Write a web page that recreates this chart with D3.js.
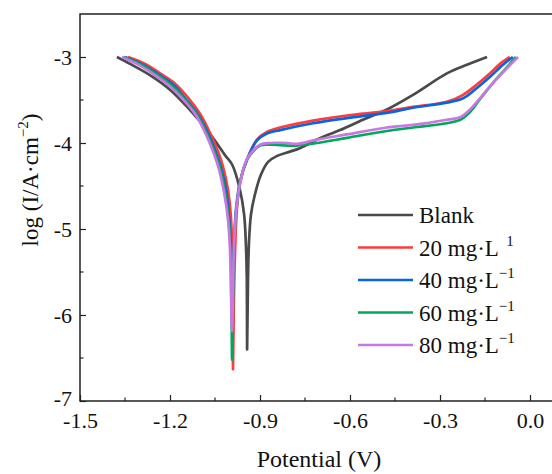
<!DOCTYPE html>
<html>
<head>
<meta charset="utf-8">
<script src="https://cdn.jsdelivr.net/npm/d3@7"></script>
<style>
  body { margin: 0; background: #fff; }
  svg text { font-family: "Liberation Serif", "Times New Roman", serif; fill: #111; }
</style>
</head>
<body>
<svg id="chart" width="552" height="474"></svg>
<script>
// ---- data: [potential (V), log(I)] ----
const blank = [
  [-1.377,-3.00],[-1.333,-3.08],[-1.267,-3.21],[-1.200,-3.38],[-1.143,-3.58],[-1.100,-3.75],
  [-1.057,-3.94],[-1.017,-4.14],[-0.993,-4.25],[-0.967,-4.54],[-0.953,-4.83],[-0.947,-5.18],
  [-0.944,-5.59],[-0.943,-6.40],[-0.940,-5.59],[-0.937,-5.18],[-0.930,-4.83],[-0.917,-4.60],
  [-0.897,-4.37],[-0.873,-4.22],[-0.843,-4.15],[-0.800,-4.10],[-0.767,-4.06],[-0.710,-3.96],
  [-0.633,-3.85],[-0.557,-3.73],[-0.477,-3.61],[-0.390,-3.44],[-0.277,-3.19],[-0.210,-3.09],
  [-0.143,-3.00]
];
const mg20 = [
  [-1.340,-3.00],[-1.283,-3.08],[-1.233,-3.19],[-1.183,-3.31],[-1.143,-3.46],[-1.100,-3.66],
  [-1.067,-3.88],[-1.040,-4.10],[-1.023,-4.28],[-1.007,-4.54],[-0.997,-4.86],[-0.993,-5.24],
  [-0.991,-5.82],[-0.990,-6.63],[-0.987,-5.82],[-0.983,-5.24],[-0.977,-4.77],[-0.967,-4.46],
  [-0.943,-4.19],[-0.910,-3.96],[-0.877,-3.87],[-0.833,-3.82],[-0.723,-3.74],[-0.610,-3.68],
  [-0.477,-3.63],[-0.390,-3.58],[-0.277,-3.52],[-0.223,-3.44],[-0.177,-3.32],[-0.133,-3.19],
  [-0.100,-3.08],[-0.067,-3.00]
];
const mg40 = [
  [-1.350,-3.00],[-1.290,-3.09],[-1.240,-3.20],[-1.190,-3.32],[-1.150,-3.48],[-1.107,-3.67],
  [-1.073,-3.89],[-1.047,-4.11],[-1.030,-4.29],[-1.013,-4.55],[-1.003,-4.87],[-0.997,-5.24],
  [-0.994,-5.82],[-0.993,-6.05],[-0.990,-5.70],[-0.987,-5.24],[-0.980,-4.77],[-0.967,-4.46],
  [-0.943,-4.19],[-0.910,-3.97],[-0.877,-3.89],[-0.833,-3.85],[-0.723,-3.77],[-0.610,-3.71],
  [-0.477,-3.65],[-0.390,-3.59],[-0.277,-3.53],[-0.223,-3.48],[-0.177,-3.36],[-0.133,-3.23],
  [-0.090,-3.09],[-0.057,-3.00]
];
const mg60 = [
  [-1.355,-3.00],[-1.295,-3.09],[-1.245,-3.20],[-1.195,-3.33],[-1.153,-3.48],[-1.110,-3.67],
  [-1.077,-3.89],[-1.050,-4.12],[-1.033,-4.29],[-1.017,-4.56],[-1.005,-4.87],[-0.998,-5.24],
  [-0.995,-5.82],[-0.993,-6.52],[-0.990,-5.82],[-0.987,-5.24],[-0.980,-4.83],[-0.967,-4.48],
  [-0.950,-4.25],[-0.933,-4.14],[-0.900,-4.03],[-0.867,-4.02],[-0.810,-4.03],[-0.777,-4.03],
  [-0.710,-4.00],[-0.610,-3.94],[-0.477,-3.86],[-0.390,-3.82],[-0.277,-3.77],[-0.233,-3.73],
  [-0.200,-3.64],[-0.167,-3.49],[-0.123,-3.30],[-0.077,-3.12],[-0.047,-3.00]
];
const mg80 = [
  [-1.360,-3.00],[-1.300,-3.10],[-1.250,-3.21],[-1.200,-3.34],[-1.157,-3.49],[-1.113,-3.68],
  [-1.080,-3.90],[-1.053,-4.13],[-1.037,-4.30],[-1.020,-4.57],[-1.007,-4.88],[-1.000,-5.24],
  [-0.997,-5.70],[-0.993,-6.19],[-0.990,-5.70],[-0.987,-5.24],[-0.980,-4.81],[-0.967,-4.48],
  [-0.950,-4.24],[-0.933,-4.13],[-0.900,-4.02],[-0.867,-4.00],[-0.810,-4.00],[-0.777,-4.01],
  [-0.710,-3.96],[-0.610,-3.90],[-0.477,-3.82],[-0.390,-3.79],[-0.277,-3.73],[-0.233,-3.70],
  [-0.200,-3.61],[-0.167,-3.48],[-0.123,-3.30],[-0.077,-3.13],[-0.040,-3.00]
];

const seriesNames = ["Blank", "20 mg·L", "40 mg·L", "60 mg·L", "80 mg·L"];
const seriesSup = ["", "\u00a0\u00a01", "\u22121", "\u22121", "\u22121"];
const seriesColors = ["#4a4a4a", "#ff3b3b", "#0a64e0", "#00a85a", "#c878e0"];
const seriesData = [blank, mg20, mg40, mg60, mg80];

const xTicks = [-1.5, -1.2, -0.9, -0.6, -0.3, 0.0];
const yTicks = [-7, -6, -5, -4, -3];

// ---- layout ----
const svg = d3.select("#chart");
const mLeft = 80, mTop = 14, mBottom = 401;

const x = d3.scaleLinear().domain([-1.5, 0.1]).range([mLeft, mLeft + 1.6 * 300]);
const y = d3.scaleLinear().domain([-7, -2.5]).range([mBottom, mTop]);

// frame (right side is cut off by the picture edge)
svg.append("path")
  .attr("d", `M552,${mTop}H${mLeft}V${mBottom}H552`)
  .attr("fill", "none")
  .attr("stroke", "#222")
  .attr("stroke-width", 1.5);

// x axis
const xAxis = svg.append("g")
  .attr("transform", `translate(0,${mBottom})`)
  .call(d3.axisBottom(x).tickValues(xTicks).tickSizeInner(-6).tickSizeOuter(0)
    .tickPadding(11).tickFormat(d => d3.format(".1f")(d).replace("\u2212", "-")));
xAxis.select(".domain").remove();
xAxis.selectAll("line").attr("stroke", "#222").attr("stroke-width", 1.2);
xAxis.selectAll("text").attr("font-size", 22).attr("font-family", "Liberation Serif");

svg.append("g").selectAll("line")
  .data(d3.range(-1.35, 0.1, 0.3))
  .join("line")
  .attr("x1", d => x(d)).attr("x2", d => x(d))
  .attr("y1", mBottom).attr("y2", mBottom - 3.5)
  .attr("stroke", "#222").attr("stroke-width", 1.2);

// y axis
const yAxis = svg.append("g")
  .attr("transform", `translate(${mLeft},0)`)
  .call(d3.axisLeft(y).tickValues(yTicks).tickSizeInner(-6).tickSizeOuter(0)
    .tickPadding(8).tickFormat(d => String(d)));
yAxis.select(".domain").remove();
yAxis.selectAll("line").attr("stroke", "#222").attr("stroke-width", 1.2);
yAxis.selectAll("text").attr("font-size", 22).attr("font-family", "Liberation Serif")
  .attr("dy", d => d === -7 ? "0.2em" : "0.32em");

svg.append("g").selectAll("line")
  .data([-6.5, -5.5, -4.5, -3.5])
  .join("line")
  .attr("x1", mLeft).attr("x2", mLeft + 3.5)
  .attr("y1", d => y(d)).attr("y2", d => y(d))
  .attr("stroke", "#222").attr("stroke-width", 1.2);

// axis titles
svg.append("text")
  .attr("x", 319).attr("y", 467)
  .attr("text-anchor", "middle")
  .attr("font-size", 24)
  .text("Potential (V)");

const yt = svg.append("text")
  .attr("transform", "translate(38,180) rotate(-90)")
  .attr("text-anchor", "middle")
  .attr("font-size", 23);
yt.append("tspan").text("log (I/A·cm");
yt.append("tspan").attr("font-size", 15).attr("dy", -10).text("\u22122");
yt.append("tspan").attr("dy", 10).text(")");

// curves
const line = d3.line()
  .x(d => x(d[0]))
  .y(d => y(d[1]))
  .curve(d3.curveCatmullRom.alpha(0.5));

svg.append("g").selectAll("path")
  .data(seriesData)
  .join("path")
  .attr("d", line)
  .attr("fill", "none")
  .attr("stroke", (d, i) => seriesColors[i])
  .attr("stroke-width", 2.7)
  .attr("stroke-linejoin", "round");

// legend
const legend = svg.append("g");
seriesNames.forEach((name, i) => {
  const ly = 215 + i * 32.5;
  legend.append("line")
    .attr("x1", 358).attr("x2", 413)
    .attr("y1", ly).attr("y2", ly)
    .attr("stroke", seriesColors[i])
    .attr("stroke-width", 2.7);
  const t = legend.append("text")
    .attr("x", 419).attr("y", ly + 8)
    .attr("font-size", 23);
  t.append("tspan").text(name);
  if (seriesSup[i]) {
    t.append("tspan").attr("font-size", 15).attr("dy", -10).text(seriesSup[i]);
  }
});
</script>
</body>
</html>
